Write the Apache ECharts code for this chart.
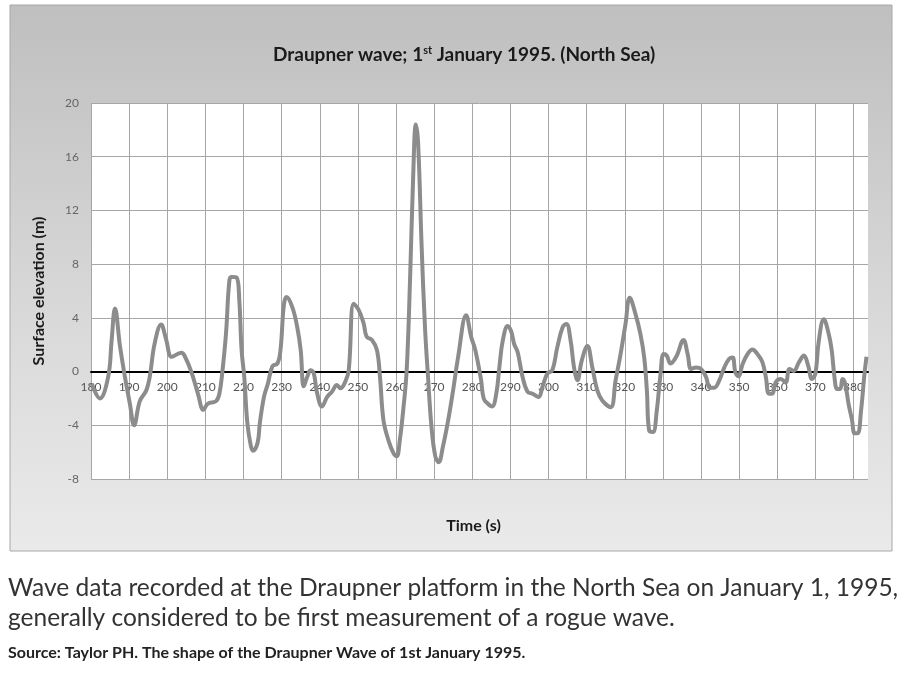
<!DOCTYPE html>
<html>
<head>
<meta charset="utf-8">
<script src="https://cdn.jsdelivr.net/npm/echarts@6/dist/echarts.min.js"></script>
<style>
  html, body { margin: 0; padding: 0; background: #fff; }
  #draupner { width: 906px; height: 675px; }
</style>
</head>
<body>
<div id="draupner"></div>
<script>
// time (s) and surface elevation (m)
const time = [
  180.2, 182.3, 184.5, 185.4, 186.3, 187.6, 188.9, 190.2, 191.3, 192.8,
  194.5, 195.4, 196.7, 198.4, 199.7, 201.2, 203.7, 204.5, 206.3, 208.0,
  209.5, 210.6, 212.8, 213.7, 214.5, 215.4, 216.3, 216.9, 218.2, 218.9,
  219.5, 220.2, 221.0, 221.9, 222.5, 223.7, 224.3, 225.4, 226.4, 227.6,
  228.9, 229.7, 230.6, 231.3, 232.8, 234.1, 235.0, 235.8, 236.7, 237.6,
  238.4, 239.3, 240.6, 241.9, 243.2, 244.5, 245.4, 246.7, 247.6, 248.9,
  250.2, 251.5, 252.3, 253.7, 255.0, 255.8, 256.7, 258.0, 259.3, 260.2,
  261.0, 261.9, 262.8, 263.7, 264.5, 265.2, 265.8, 266.7, 267.6, 268.4,
  269.3, 270.3, 271.2, 272.3, 273.7, 275.0, 276.3, 278.4, 279.7, 280.8,
  282.3, 283.0, 284.1, 285.2, 286.3, 287.1, 288.0, 289.3, 290.2, 291.0,
  291.9, 293.2, 294.5, 295.8, 297.4, 298.4, 299.7, 301.0, 302.3, 303.7,
  304.7, 305.8, 306.7, 307.6, 308.7, 310.2, 311.5, 312.8, 314.1, 316.3,
  317.6, 318.9, 320.2, 321.3, 322.8, 324.1, 325.1, 325.8, 326.4, 327.4,
  328.4, 329.3, 330.2, 331.0, 332.0, 333.5, 335.4, 336.5, 337.4, 338.7,
  340.0, 341.3, 342.3, 343.5, 344.8, 346.1, 347.4, 348.3, 349.0, 349.8,
  350.9, 352.2, 353.5, 354.8, 356.1, 357.0, 357.8, 358.7, 359.6, 360.9,
  362.2, 363.2, 364.3, 365.7, 367.0, 368.1, 369.1, 370.0, 370.9, 372.2,
  373.5, 374.3, 375.0, 375.7, 376.5, 377.1, 377.8, 378.7, 379.6, 380.3,
  381.1, 382.0, 382.8, 383.4
];
const elevation = [
  -0.9, -2.0, -0.4, 2.3, 4.7, 1.9, -0.4, -2.4, -4.0, -2.2,
  -1.4, -0.4, 2.1, 3.5, 2.4, 1.1, 1.4, 1.2, 0.0, -1.6,
  -2.85, -2.4, -2.2, -1.6, 0.1, 2.8, 6.8, 7.05, 7.0, 5.3,
  1.6, -0.4, -3.8, -5.5, -5.9, -5.3, -3.8, -1.85, -0.9, 0.4,
  0.6, 1.6, 5.0, 5.55, 4.8, 3.3, 1.6, -1.1, -0.4, 0.1,
  -0.1, -1.6, -2.6, -1.9, -1.5, -1.0, -1.25, -0.75, 0.1, 5.05,
  4.6, 3.6, 2.6, 2.35, 1.6, -0.4, -3.6, -5.1, -6.05, -6.3,
  -5.1, -2.85, 0.1, 7.0, 14.5, 18.4, 17.0, 9.5, 3.3, -0.4,
  -4.1, -6.3, -6.75, -5.6, -3.6, -1.35, 1.1, 4.2, 2.6, 1.6,
  -0.6, -2.0, -2.4, -2.6, -1.65, 0.3, 2.3, 3.4, 3.0, 2.05,
  1.45, -0.4, -1.5, -1.65, -1.9, -1.15, -0.15, 0.1, 1.8, 3.3,
  3.55, 2.3, 0.3, -0.65, 0.8, 1.9, 0.3, -1.4, -2.15, -2.65,
  -0.65, 1.3, 3.55, 5.5, 4.3, 2.8, 1.05, -1.4, -4.4, -4.5,
  -2.9, -0.4, 1.3, 1.2, 0.6, 1.1, 2.35, 1.3, 0.2, 0.3,
  0.2, -0.4, -1.2, -1.2, -0.65, 0.3, 0.95, 1.05, -0.05, -0.35,
  0.55, 1.3, 1.65, 1.3, 0.7, -0.4, -1.65, -1.65, -0.8, -0.55,
  -0.8, 0.2, 0.05, 0.7, 1.2, 0.45, -0.55, -0.15, 2.3, 3.9,
  2.8, 1.55, -0.4, -1.3, -1.3, -0.55, -0.9, -2.4, -3.6, -4.6,
  -4.6, -2.85, -0.4, 1.1
];
const yMin = -8, yMax = 20;

const chart = echarts.init(document.getElementById("draupner"));
const font = "Lato, 'Open Sans', sans-serif";
const gridTop = 103, gridBottom = 196;
const gridHeight = 675 - gridTop - gridBottom;

// vertical gridlines: one per 10 s, none at the right edge
let vLines = [];
for (let i = 0; i < 21; i++) vLines.push("#a6a6a6");
vLines.push("rgba(0,0,0,0)");

let option = {
  animation: false,
  title: {
    text: "{a|Draupner wave; 1}{s|st}{a| January 1995. (North Sea)}",
    left: 268,
    top: 40,
    textStyle: {
      rich: {
        a: { fontFamily: font, fontWeight: "bold", fontSize: 19, color: "#1a1a1a" },
        s: { fontFamily: font, fontWeight: "bold", fontSize: 11, color: "#1a1a1a", padding: [0, 0, 9, 0] }
      }
    }
  },
  graphic: [
    {
      type: "rect",
      z: -10,
      shape: { x: 10, y: 5, width: 882, height: 546 },
      style: {
        fill: new echarts.graphic.LinearGradient(0, 0, 0, 1, [
          { offset: 0, color: "#bfbfbf" },
          { offset: 0.6, color: "#dadada" },
          { offset: 1, color: "#eaeaea" }
        ]),
        stroke: "#a8a8a8",
        lineWidth: 1
      }
    },
    {
      type: "text",
      x: 8,
      y: 576,
      style: {
        text: "Wave data recorded at the Draupner platform in the North Sea on January 1, 1995,",
        font: "24.5px " + font,
        fill: "#333"
      }
    },
    {
      type: "text",
      x: 8,
      y: 606,
      style: {
        text: "generally considered to be first measurement of a rogue wave.",
        font: "24.5px " + font,
        fill: "#333"
      }
    },
    {
      type: "text",
      x: 8,
      y: 645,
      style: {
        text: "Source: Taylor PH. The shape of the Draupner Wave of 1st January 1995.",
        font: "bold 16px " + font,
        fill: "#222"
      }
    }
  ],
  grid: {
    left: 91,
    right: 38,
    top: gridTop,
    bottom: gridBottom,
    show: true,
    backgroundColor: "#ffffff",
    borderWidth: 0
  },
  xAxis: {
    type: "value",
    min: 180,
    max: 383.8,
    interval: 10,
    name: "Time (s)",
    nameLocation: "middle",
    nameGap: 146,
    nameTextStyle: {
      fontFamily: font, fontWeight: "bold", fontSize: 16, color: "#1a1a1a",
      padding: [0, 12, 0, 0]
    },
    // axis sits on the zero line, labels just below it
    offset: -gridHeight * (0 - yMin) / (yMax - yMin),
    axisLine: { onZero: false, lineStyle: { color: "#000", width: 2 } },
    axisTick: { show: false },
    axisLabel: {
      fontFamily: font,
      fontSize: 12,
      color: "#555",
      margin: 10,
      showMaxLabel: false,
      formatter: function (v) {
        return v % 10 === 0 ? String(v) : "";
      }
    },
    splitLine: { show: true, lineStyle: { color: vLines, width: 1 } }
  },
  yAxis: {
    type: "value",
    min: yMin,
    max: yMax,
    interval: 4,
    name: "Surface elevation (m)",
    nameLocation: "middle",
    nameGap: 44,
    nameTextStyle: { fontFamily: font, fontWeight: "bold", fontSize: 16, color: "#1a1a1a" },
    axisLine: { show: false },
    axisTick: { show: false },
    axisLabel: { fontFamily: font, fontSize: 12, color: "#666", margin: 12 },
    splitLine: { show: true, lineStyle: { color: "#a6a6a6", width: 1 } }
  },
  series: [
    {
      name: "Draupner",
      type: "line",
      data: time.map((t, i) => [t, elevation[i]]),
      smooth: 0.4,
      showSymbol: false,
      lineStyle: { color: "#8c8c8c", width: 4 },
      z: 3
    }
  ]
};
chart.setOption(option);
</script>
</body>
</html>
